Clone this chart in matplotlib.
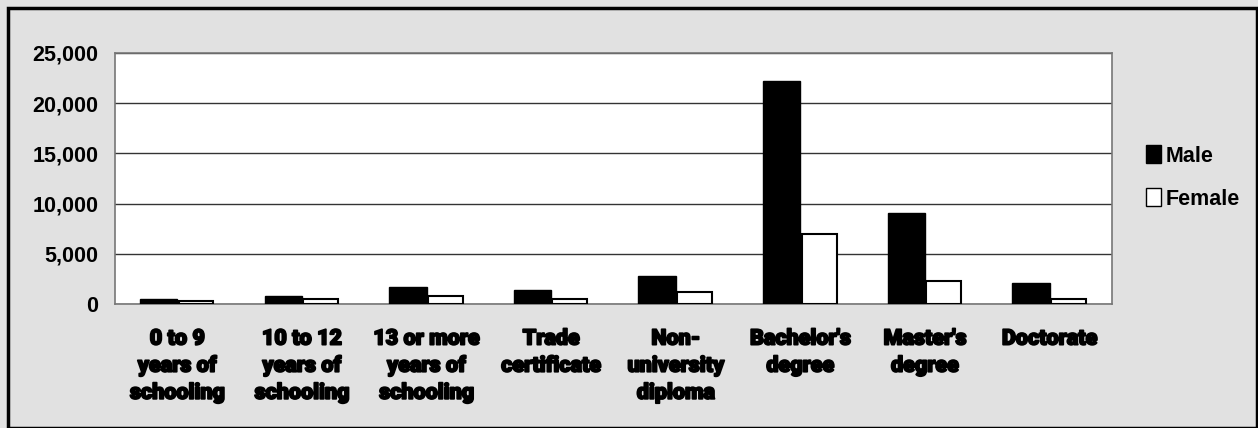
import matplotlib.pyplot as plt
import matplotlib.patches as mpatches
import matplotlib.patheffects as pe
import numpy as np
from matplotlib import font_manager

# categories and values
categories = ['0 to 9\nyears of\nschooling', '10 to 12\nyears of\nschooling',
              '13 or more\nyears of\nschooling', 'Trade\ncertificate',
              'Non-\nuniversity\ndiploma', "Bachelor's\ndegree",
              "Master's\ndegree", 'Doctorate']
male = [530, 800, 1660, 1420, 2760, 22200, 9030, 2090]
female = [300, 500, 770, 500, 1160, 6940, 2290, 500]
yticks = [0, 5000, 10000, 15000, 20000, 25000]


def pick_font(cands, weight='bold'):
    for c in cands:
        try:
            font_manager.findfont(font_manager.FontProperties(family=c, weight=weight),
                                  fallback_to_default=False)
            return c
        except Exception:
            pass
    return 'DejaVu Sans'


arial = pick_font(['Liberation Sans', 'Arimo', 'Roboto'])
heavy = pick_font(['Roboto', 'Lato', 'Inter'], weight=900)

bg = '#e1e1e1'
fig = plt.figure(figsize=(12.58, 4.28), dpi=100, facecolor=bg)
# outer black frame
fig.patches.append(mpatches.Rectangle((8/1258, 0), 1 - 9/1258, 1 - 8/428,
                                      transform=fig.transFigure, fill=False,
                                      edgecolor='black', linewidth=2.5))

ax = fig.add_axes([115/1258, 1 - 304/428, (1112 - 115)/1258, (304 - 53)/428])
ax.set_facecolor('white')

x = np.arange(len(categories))
w = 0.3
ax.bar(x - w/2, male, w, color='black', edgecolor='black', linewidth=1, zorder=3)
ax.bar(x + w/2, female, w * 0.93, color='white', edgecolor='black', linewidth=1.5,
       zorder=3)

ax.set_xlim(-0.5, len(categories) - 0.5)
ax.set_ylim(0, 25000)
ax.set_yticks(yticks)
ax.set_yticklabels(['{:,}'.format(v) for v in yticks], fontfamily=arial,
                   fontweight='bold', fontsize=15.5)
ax.grid(axis='y', color='#333333', linewidth=1, zorder=0)
ax.tick_params(axis='both', length=0)
ax.tick_params(axis='y', pad=12)
ax.tick_params(axis='x', pad=17)
ax.set_xticks(x)
ax.set_xticklabels(categories, fontfamily=heavy, fontweight=900,
                   fontsize=15.5, linespacing=1.3)
# fatten the category labels, the original uses a very heavy face
for lab in ax.get_xticklabels():
    lab.set_path_effects([pe.withStroke(linewidth=1.3, foreground='black')])
for s in ax.spines.values():
    s.set_color('#777777')
    s.set_linewidth(1.2)

handles = [mpatches.Patch(facecolor='black', edgecolor='black', label='Male'),
           mpatches.Patch(facecolor='white', edgecolor='black', label='Female')]
fig.legend(handles=handles, loc='upper left', bbox_to_anchor=(1127/1258, 1 - 126/428),
           frameon=False, prop={'family': arial, 'weight': 'bold', 'size': 15.5},
           handlelength=0.7, handleheight=0.9, handletextpad=0.2, labelspacing=1.0)

fig.savefig('out.png', dpi=100, facecolor=bg)
